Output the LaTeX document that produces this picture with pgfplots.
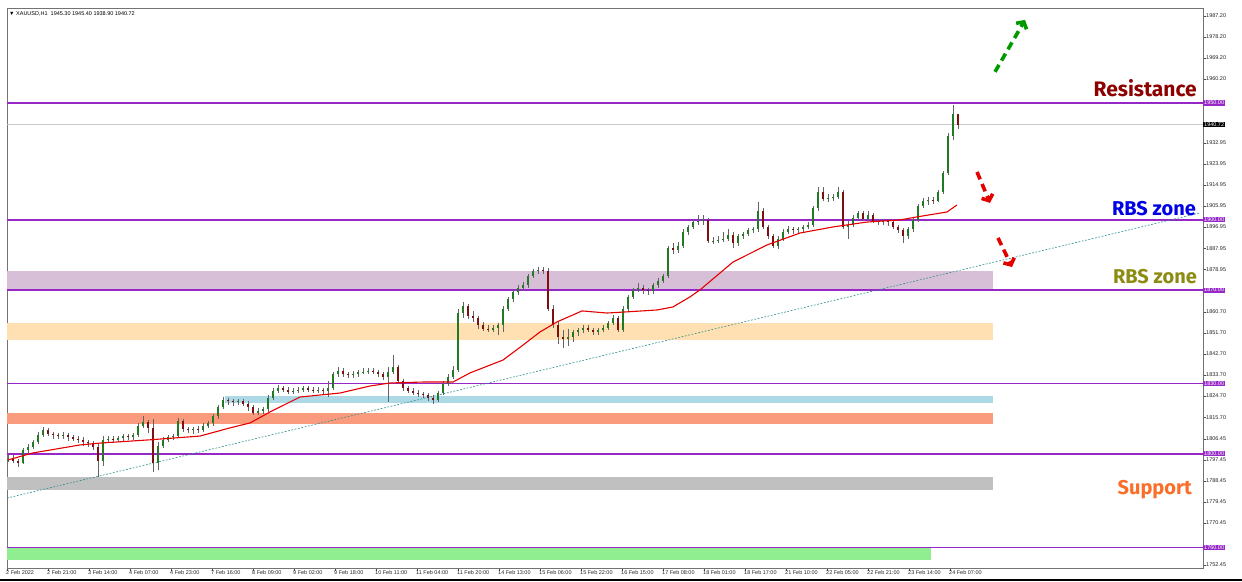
\documentclass[border=0pt]{standalone}
\usepackage{fontspec}
\setmainfont{Liberation Sans}
\newfontfamily\annfont{Fira Sans}
\usepackage{pgfplots}
\usepackage{pgfplotstable}
\pgfplotsset{compat=1.18}
\usetikzlibrary{arrows.meta}

\definecolor{lvl}{RGB}{150,40,200}
\definecolor{bull}{RGB}{35,120,35}
\definecolor{bear}{RGB}{125,15,15}
\definecolor{wick}{RGB}{100,100,100}
\definecolor{zpurple}{RGB}{216,191,216}
\definecolor{zpeach}{RGB}{255,224,178}
\definecolor{zblue}{RGB}{173,216,230}
\definecolor{zsalmon}{RGB}{250,155,125}
\definecolor{zgray}{RGB}{192,192,192}
\definecolor{zgreen}{RGB}{144,238,144}
\definecolor{trendc}{RGB}{40,140,140}
\definecolor{olivec}{RGB}{140,140,20}
\definecolor{suppc}{RGB}{250,110,40}

% x = horizontal position of the bar on the chart, o h l c = price
\pgfplotstableread{
x o h l c
8 1797.5 1799.5 1796.5 1798
13 1798 1799.5 1796 1797
18 1797 1798 1794.5 1796
23 1796 1802.5 1795.5 1801.7
28 1801.7 1804 1800.5 1803
33 1803 1806 1802 1805
38 1805 1809.5 1804 1808
43 1808 1811.5 1807 1810
48 1810 1811 1807.5 1808.5
53 1808.5 1809.5 1806.5 1808
58 1808 1809 1806.5 1807.5
63 1807.5 1809.5 1806.5 1808
68 1808 1809 1805.5 1807
73 1807 1808 1805.5 1806.5
78 1806.5 1807.5 1804.5 1806
83 1806 1807 1803.5 1805
88 1805 1806 1803 1804.5
93 1804.5 1805.5 1801.5 1803
98 1803 1804 1790 1797
103 1797 1807.5 1795 1806
108 1806 1807.5 1804.5 1806.5
113 1806.5 1807.5 1805 1806
118 1806 1807.5 1805 1806.8
123 1806.8 1808.5 1805.5 1807.5
128 1807.5 1808.5 1806 1807
133 1807 1809 1806 1808
138 1808 1813 1807 1812
143 1812 1816 1811 1813.5
148 1813.5 1814.5 1809 1811
153 1811 1815 1792.3 1796
158 1796 1805 1793 1803.5
163 1803.5 1807 1802.5 1806
168 1806 1808 1805 1807
173 1807 1808.5 1806 1807.5
178 1807.5 1815.5 1807 1814
183 1814 1815 1809.5 1810.5
188 1810.5 1811.5 1809 1810
193 1810 1811.5 1808.5 1810.5
198 1810.5 1812 1809 1810
203 1810 1813 1809.5 1812
208 1812 1814 1811 1813
213 1813 1817 1812 1816
218 1816 1821 1815 1820
223 1820 1824.5 1819 1823
228 1823 1824 1821 1822.5
233 1822.5 1823.5 1820.5 1822
238 1822 1823.5 1821 1822.5
243 1822.5 1823.5 1820.5 1821.5
248 1821.5 1822.5 1818.5 1820
253 1820 1821 1816.5 1817.5
258 1817.5 1819.5 1816.5 1818.5
263 1818.5 1820 1817 1819
268 1819 1825 1818 1824
273 1824 1828 1823 1827
278 1827 1829.5 1826 1828
283 1828 1829 1826.5 1827.5
288 1827.5 1828.5 1825.5 1826.5
293 1826.5 1828 1825.5 1827
298 1827 1828.5 1826 1827.5
303 1827.5 1829 1826.5 1828
308 1828 1829 1826.5 1827.5
313 1827.5 1828.5 1826 1827
318 1827 1828.5 1826 1827.2
323 1827.2 1828 1825.5 1826.8
328 1826.8 1831 1824.5 1828
333 1828 1835 1827.5 1834
338 1834 1837 1833 1835.5
343 1835.5 1836.5 1833 1834
348 1834 1835 1832.5 1833.5
353 1833.5 1835.5 1832.5 1834
358 1834 1836 1833 1835
363 1835 1836.5 1834 1835
368 1835 1836.5 1834 1835.5
373 1835.5 1836.5 1834 1835
378 1835 1836 1833 1834
383 1834 1835 1831.5 1833
388 1833 1837 1822 1835
393 1835 1842.3 1834 1837
398 1837 1838 1830 1831
403 1831 1832 1827 1828
408 1828 1829 1826 1827
413 1827 1828 1825 1826
418 1826 1827.5 1824.5 1825.5
423 1825.5 1826.5 1824 1825
428 1825 1826 1822.5 1824
433 1824 1825 1821.5 1823
438 1823 1827 1822 1826
443 1826 1831 1825 1830
448 1830 1834 1829 1833
453 1833 1837.5 1832 1836
458 1836 1862 1835 1860
463 1860 1865 1858 1863
468 1863 1864 1857.5 1859
473 1859 1861 1856.5 1858
478 1858 1859 1853.5 1855
483 1855 1856.5 1852.5 1853.5
488 1853.5 1855 1852 1853
493 1853 1855 1852 1854
498 1854 1856 1851 1855
503 1855 1863 1852 1862
508 1862 1867 1861 1866
513 1866 1870 1865 1869
518 1869 1872 1868 1871
523 1871 1873.5 1870 1872
528 1872 1877 1871 1876
533 1876 1879 1875 1878
538 1878 1880 1877 1878.5
543 1878.5 1880 1877 1878
548 1878 1879.5 1861 1862
553 1862 1863.5 1854 1855
558 1855 1857 1847 1850
563 1850 1853 1845.3 1849
568 1849 1853.5 1846 1850
573 1850 1853 1848 1852
578 1852 1854 1850.5 1853
583 1853 1855 1851.5 1854
588 1854 1855 1852 1853
593 1853 1854 1851 1852
598 1852 1854 1851 1853
603 1853 1855 1852 1854
608 1854 1857 1853 1856
613 1856 1859.5 1855 1858
618 1858 1859 1852 1853
623 1853 1863 1852 1862
628 1862 1868 1861 1867
633 1867 1871 1866 1870
638 1870 1873 1869 1871
643 1871 1872 1868.5 1870
648 1870 1871 1868 1869.5
653 1869.5 1873 1868.5 1872
658 1872 1875 1871 1874
663 1874 1877 1873 1876
668 1876 1889 1875 1888
673 1888 1890 1885.5 1887
678 1887 1890.5 1886 1889
683 1889 1896 1888 1894.8
688 1894.8 1898 1893.5 1897
693 1897 1900 1896 1899
698 1899 1902 1898 1899.5
703 1899.5 1902 1898 1900
708 1900 1901 1890 1891
713 1891 1892.5 1889.5 1891
718 1891 1893 1890 1891.5
723 1891.5 1895 1890.5 1892
728 1892 1896 1891 1893.5
733 1893.5 1895 1888 1890
738 1890 1894 1889 1893
743 1893 1895 1892 1894
748 1894 1896.5 1893 1895.7
753 1895.7 1897 1894.5 1896
758 1896 1907.6 1895 1904
763 1904 1905 1896 1897
768 1897 1898 1892 1893
773 1893 1894 1888 1889
778 1889 1893 1887.5 1892
783 1892 1896 1891 1895
788 1895 1897.5 1894 1896
793 1896 1897 1894 1895.5
798 1895.5 1897 1894.5 1896
803 1896 1898 1895 1897
808 1897 1899 1896 1898
813 1898 1906 1897 1905
818 1905 1914 1904 1912
823 1912 1914 1908 1909
828 1909 1911 1907.5 1909.5
833 1909.5 1911 1908 1910
838 1910 1914 1909 1912
843 1912 1913 1896 1897
848 1897 1899.5 1892 1898
853 1898 1902 1897 1901
858 1901 1904 1900 1903
863 1903 1904 1899.5 1900.5
868 1900.5 1904 1899.5 1902
873 1902 1903 1898.5 1899.5
878 1899.5 1900.5 1898 1899
883 1899 1900.5 1898 1899.5
888 1899.5 1900.5 1897.5 1899
893 1899 1900 1896 1897
898 1897 1898 1894.5 1895.5
903 1895.5 1896.5 1890 1893
908 1893 1897 1892 1896
913 1896 1901 1895 1900
918 1900 1907 1899 1906
923 1906 1909.5 1905 1908
928 1908 1910 1906.5 1908.5
933 1908.5 1910 1907 1908
938 1908 1913 1907.5 1912
943 1912 1921 1911 1920
948 1920 1937 1919 1936
953 1936 1949.1 1934 1945.3
958 1945.3 1945.4 1938.9 1940.72
}\candles

\begin{document}
\begin{tikzpicture}
\begin{axis}[
    scale only axis,
    width=1196pt, height=560pt,
    xmin=7, xmax=1203, ymin=1751.2, ymax=1990.6,
    clip mode=individual,
    axis line style={black!55, line width=0.6pt},
    xtick pos=bottom, ytick pos=right, yticklabel pos=right,
    tick align=outside, major tick length=2.5pt,
    tick style={black!70, line width=0.5pt},
    xtick={7,48,89,130,171,212,253,294,335,376,417,458,499,540,581,622,663,704,745,786,827,868,909,950},
    xticklabels={2 Feb 2022,2 Feb 21:00,3 Feb 14:00,4 Feb 07:00,4 Feb 23:00,7 Feb 16:00,8 Feb 09:00,9 Feb 02:00,9 Feb 18:00,10 Feb 11:00,11 Feb 04:00,11 Feb 20:00,14 Feb 13:00,15 Feb 06:00,15 Feb 22:00,16 Feb 15:00,17 Feb 08:00,18 Feb 01:00,18 Feb 17:00,21 Feb 10:00,22 Feb 05:00,22 Feb 21:00,23 Feb 14:00,24 Feb 07:00},
    ytick={1987.2,1978.2,1969.2,1960.2,1932.95,1923.95,1914.95,1905.95,1896.95,1887.95,1878.95,1860.7,1851.7,1842.7,1833.7,1824.7,1815.7,1806.45,1797.45,1788.45,1779.45,1770.45,1752.45},
    yticklabels={1987.20,1978.20,1969.20,1960.20,1932.95,1923.95,1914.95,1905.95,1896.95,1887.95,1878.95,1860.70,1851.70,1842.70,1833.70,1824.70,1815.70,1806.45,1797.45,1788.45,1779.45,1770.45,1752.45},
    ticklabel style={font=\fontsize{5.5}{6}\selectfont, text=black!85},
    xticklabel style={anchor=north west, xshift=-1.5pt, yshift=1pt, inner sep=0.5pt},
    yticklabel style={anchor=west, inner sep=1pt, xshift=-0.5pt},
    /pgf/number format/assume math mode=true,
]

% zones
\addplot[fill=zpurple, draw=none, forget plot] coordinates {(7,1870.5) (993,1870.5) (993,1878.2) (7,1878.2)} -- cycle;
\addplot[fill=zpeach, draw=none, forget plot] coordinates {(7,1848.7) (993,1848.7) (993,1855.9) (7,1855.9)} -- cycle;
\addplot[fill=zblue, draw=none, forget plot] coordinates {(225,1821.7) (993,1821.7) (993,1824.7) (225,1824.7)} -- cycle;
\addplot[fill=zsalmon, draw=none, forget plot] coordinates {(7,1812.8) (993,1812.8) (993,1817.5) (7,1817.5)} -- cycle;
\addplot[fill=zgray, draw=none, forget plot] coordinates {(7,1784.5) (993,1784.5) (993,1790.1) (7,1790.1)} -- cycle;
\addplot[fill=zgreen, draw=none, forget plot] coordinates {(7,1754.6) (931,1754.6) (931,1759.8) (7,1759.8)} -- cycle;

% level lines
\addplot[black!22, line width=0.6pt, forget plot] coordinates {(7,1940.72) (1203,1940.72)};
\addplot[draw=lvl, line width=1.5pt, forget plot] coordinates {(7,1950) (1203,1950)};
\addplot[draw=lvl, line width=1.5pt, forget plot] coordinates {(7,1900) (1203,1900)};
\addplot[draw=lvl, line width=1.5pt, forget plot] coordinates {(7,1870) (1203,1870)};
\addplot[draw=lvl, line width=1.5pt, forget plot] coordinates {(7,1830) (1203,1830)};
\addplot[draw=lvl, line width=1.5pt, forget plot] coordinates {(7,1800) (1203,1800)};
\addplot[draw=lvl, line width=1.5pt, forget plot] coordinates {(7,1760) (1203,1760)};

% trend line
\addplot[trendc, line width=0.6pt, dash pattern=on 1.8pt off 1.6pt, forget plot] coordinates {(7,1781.1) (1200,1903.0)};

% wicks
\addplot[draw=none, no markers, forget plot,
    error bars/.cd, y dir=minus, y explicit, error mark=none,
    error bar style={solid, draw=wick, line width=0.7pt}]
    table[x=x, y=h, y error minus expr={\thisrow{h}-\thisrow{l}}] {\candles};
% bull bodies
\addplot[draw=none, no markers, forget plot,
    restrict expr to domain={\thisrow{c}-\thisrow{o}}{0:1000},
    error bars/.cd, y dir=minus, y explicit, error mark=none,
    error bar style={solid, draw=bull, line width=2.6pt}]
    table[x=x, y=c, y error minus expr={max(\thisrow{c}-\thisrow{o},0.3)}] {\candles};
% bear bodies
\addplot[draw=none, no markers, forget plot,
    restrict expr to domain={\thisrow{o}-\thisrow{c}}{0.001:1000},
    error bars/.cd, y dir=minus, y explicit, error mark=none,
    error bar style={solid, draw=bear, line width=2.6pt}]
    table[x=x, y=o, y error minus expr={\thisrow{o}-\thisrow{c}}] {\candles};

% moving average
\addplot[red!90!black, line width=1.1pt, forget plot] coordinates {
(8,1797.4) (33,1800.4) (80,1803.8) (100,1804.6) (150,1806) (200,1807.6)
(230,1811.1) (250,1813.2) (270,1817.9) (300,1824.3) (340,1826) (370,1829)
(390,1830.3) (423,1830.7) (453,1830.7) (470,1834.6) (503,1840.1) (523,1846.5)
(540,1852.1) (557,1856.4) (582,1861.1) (607,1860.2) (627,1860.7) (657,1861.5)
(673,1862.8) (690,1867.1) (700,1870.1) (733,1882) (767,1889.3) (800,1894.4)
(833,1897) (867,1899.1) (900,1900) (917,1901.3) (947,1903.4) (957,1906.4)};

% arrows
\addplot[green!60!black, line width=3.6pt, dash pattern=on 8pt off 5pt,
    -{Straight Barb[length=5pt,width=12pt]}, forget plot]
    coordinates {(995,1963.3) (1025,1985.5)};
\addplot[red!90!black, line width=3.6pt, dash pattern=on 8pt off 5pt,
    -{Straight Barb[length=5pt,width=12pt]}, forget plot]
    coordinates {(977,1920.5) (990,1907.3)};
\addplot[red!90!black, line width=3.6pt, dash pattern=on 8pt off 5pt,
    -{Straight Barb[length=5pt,width=12pt]}, forget plot]
    coordinates {(998,1892.3) (1012,1879.9)};

% annotations
\node[anchor=base east, inner sep=0, text=red!55!black, font=\annfont\fontsize{21}{22}\selectfont\bfseries] at (axis cs:1197,1952.6) {Resistance};
\node[anchor=base east, inner sep=0, text=blue!90!black, font=\annfont\fontsize{20}{22}\selectfont\bfseries] at (axis cs:1196,1902.1) {RBS zone};
\node[anchor=base east, inner sep=0, text=olivec, font=\annfont\fontsize{20}{22}\selectfont\bfseries] at (axis cs:1197,1873.0) {RBS zone};
\node[anchor=base east, inner sep=0, text=suppc, font=\annfont\fontsize{20}{22}\selectfont\bfseries] at (axis cs:1192,1782.8) {Support};

\node[anchor=north west, inner sep=0, font=\fontsize{5.5}{6}\selectfont] at ([xshift=2pt,yshift=-3pt]rel axis cs:0,1) {▼\ XAUUSD,H1\ \ 1945.30 1945.40 1938.90 1940.72};

% price boxes on the right scale
\foreach \v/\t in {1950/1950.00, 1900/1900.00, 1870/1870.00, 1830/1830.00, 1800/1800.00, 1760/1760.00}{
  \edef\temp{\noexpand\node[anchor=west, fill=lvl, text=white, inner xsep=1pt, inner ysep=0.6pt, font=\noexpand\fontsize{5.5}{6}\noexpand\selectfont] at (axis cs:1203,\v) {\t};}
  \temp
}
\node[anchor=west, fill=black, text=white, inner xsep=1pt, inner ysep=0.6pt, font=\fontsize{5.5}{6}\selectfont] at (axis cs:1203,1940.72) {1940.72};
\end{axis}
\draw[black, line width=2pt] ([xshift=-7pt,yshift=-11.5pt]current axis.south west) -- ([xshift=39pt,yshift=-11.5pt]current axis.south east);
\pgfresetboundingbox
\path ([xshift=-7pt,yshift=-13pt]current axis.south west) rectangle ([xshift=39pt,yshift=8pt]current axis.north east);
\end{tikzpicture}
\end{document}
